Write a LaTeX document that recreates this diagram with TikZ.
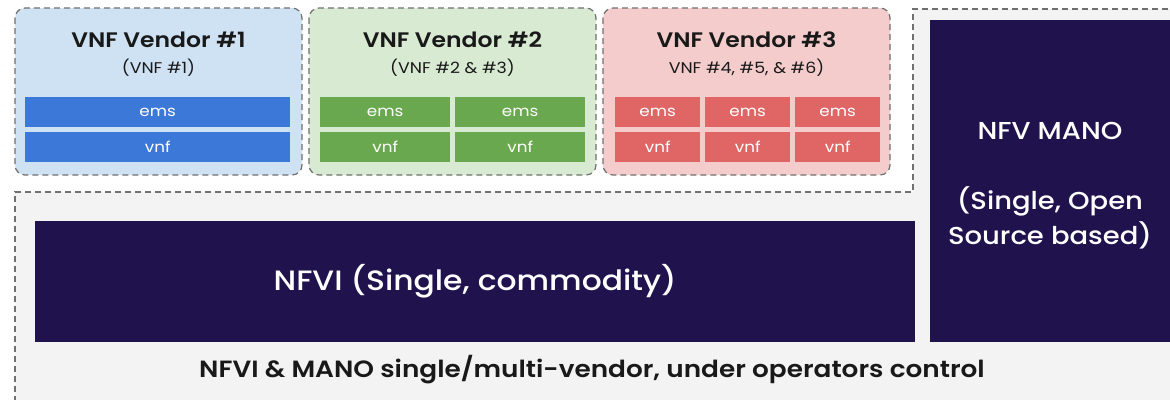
\documentclass[tikz,border=0pt]{standalone}
\usepackage{fontspec}
\setmainfont{Poppins}[FakeStretch=1.12, BoldFont={Poppins SemiBold}]
\newfontfamily\medfont{Poppins Medium}[FakeStretch=1.12]
\definecolor{navy}{HTML}{20124D}
\definecolor{bgray}{HTML}{F3F3F3}
\definecolor{dgray}{HTML}{707070}
\definecolor{lblue}{HTML}{CFE2F3}
\definecolor{dblue}{HTML}{3C78D8}
\definecolor{lgreen}{HTML}{D9EAD3}
\definecolor{dgreen}{HTML}{6AA84F}
\definecolor{lred}{HTML}{F4CCCC}
\definecolor{dred}{HTML}{E06666}
\tikzset{
  vendor/.style={draw=dgray, dashed, line width=1.2pt, rounded corners=10pt, dash pattern=on 6pt off 4pt},
  bar/.style={text=white, font=\fontsize{15}{17}\selectfont, inner sep=0pt, anchor=north west},
  title/.style={font=\bfseries\fontsize{21}{24}\selectfont, text=black!90},
  sub/.style={font=\fontsize{15.5}{18}\selectfont, text=black!90},
  darkbox/.style={fill=navy, text=white, inner sep=0pt, anchor=north west}
}
\begin{document}
\begin{tikzpicture}[x=1pt,y=-1pt]
\useasboundingbox (0,0) rectangle (1170,399);
\fill[white] (0,0) rectangle (1170,399);
% outer region
\coordinate (o1) at (15,402);
\coordinate (o2) at (15,192);
\coordinate (o3) at (913,192);
\coordinate (o4) at (913,9);
\coordinate (o5) at (1172,9);
\fill[bgray] (o1) -- (o2) -- (o3) -- (o4) -- (o5) -- (1172,402) -- cycle;
\draw[draw=dgray, line width=1.2pt, dash pattern=on 6pt off 4pt] (o1) -- (o2) -- (o3) -- (o4) -- (o5);
% vendor boxes
\draw[vendor, fill=lblue] (15,8) rectangle (302,175);
\draw[vendor, fill=lgreen] (309,8) rectangle (596,175);
\draw[vendor, fill=lred] (603,8) rectangle (890,175);
\node[title] (t1) at (158.5,40) {VNF Vendor \#1};
\node[sub] (s1) at (158.5,68) {(VNF \#1)};
\node[title] (t2) at (452.5,40) {VNF Vendor \#2};
\node[sub] (s2) at (452.5,68) {(VNF \#2 \& \#3)};
\node[title] (t3) at (746.5,40) {VNF Vendor \#3};
\node[sub] (s3) at (746.5,68) {VNF \#4, \#5, \& \#6)};
% bars vendor1
\node[bar, fill=dblue, minimum width=265pt, minimum height=30pt] (e1) at (25,97) {ems};
\node[bar, fill=dblue, minimum width=265pt, minimum height=30pt] (v1) at (25,132) {vnf};
% vendor2
\node[bar, fill=dgreen, minimum width=130pt, minimum height=30pt] (e2a) at (320,97) {ems};
\node[bar, fill=dgreen, minimum width=130pt, minimum height=30pt] (v2a) at (320,132) {vnf};
\node[bar, fill=dgreen, minimum width=130pt, minimum height=30pt] (e2b) at (455,97) {ems};
\node[bar, fill=dgreen, minimum width=130pt, minimum height=30pt] (v2b) at (455,132) {vnf};
% vendor3
\foreach \x/\n in {615/a,705/b,795/c}{
  \node[bar, fill=dred, minimum width=85pt, minimum height=30pt] (e3\n) at (\x,97) {ems};
  \node[bar, fill=dred, minimum width=85pt, minimum height=30pt] (v3\n) at (\x,132) {vnf};
}
% NFVI
\node[darkbox, minimum width=880pt, minimum height=121pt, font=\medfont\fontsize{28}{32}\selectfont] (nfvi) at (35,221) {NFVI (Single, commodity)};
% MANO
\node[darkbox, minimum width=242pt, minimum height=322pt] (mano) at (930,20) {};
\node[text=white, font=\medfont\fontsize{24.5}{30}\selectfont] (manot1) at (1050,131) {NFV MANO};
\node[text=white, align=center, font=\medfont\fontsize{24.5}{35}\selectfont] (manot2) at (1050,218) {(Single, Open\\Source based)};
% bottom
\node[font=\bfseries\fontsize{23.5}{26}\selectfont, text=black!90] (bot) at (592,370) {NFVI \& MANO single/multi-vendor, under operators control};
\end{tikzpicture}
\end{document}
